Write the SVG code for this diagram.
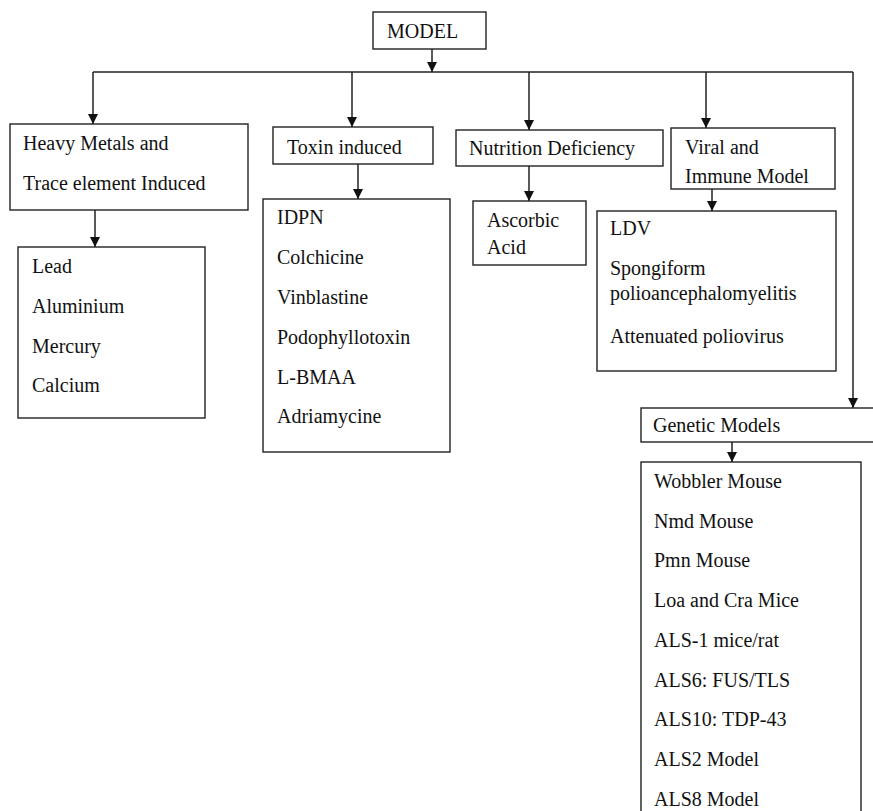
<svg xmlns="http://www.w3.org/2000/svg" width="873" height="811" viewBox="0 0 873 811">
<style>
.box{fill:#fff;stroke:#222;stroke-width:1.4}
.t{font-family:"Liberation Serif","Times New Roman",serif;font-size:20px;fill:#111}
.c{fill:none;stroke:#222;stroke-width:1.5}
</style>
<defs>
<marker id="ah" viewBox="0 0 10 10" markerWidth="10" markerHeight="10" refX="10" refY="5" orient="auto" markerUnits="userSpaceOnUse">
<path d="M0,0 L10,5 L0,10 z" fill="#111"/>
</marker>
</defs>
<rect width="873" height="811" fill="#fff"/>
<g id="connectors">
<line class="c" x1="432" y1="49" x2="432" y2="72" marker-end="url(#ah)"/>
<line class="c" x1="93" y1="72" x2="853" y2="72"/>
<line class="c" x1="93" y1="72" x2="93" y2="124" marker-end="url(#ah)"/>
<line class="c" x1="352" y1="72" x2="352" y2="127" marker-end="url(#ah)"/>
<line class="c" x1="529" y1="72" x2="529" y2="130" marker-end="url(#ah)"/>
<line class="c" x1="706" y1="72" x2="706" y2="128" marker-end="url(#ah)"/>
<line class="c" x1="853" y1="72" x2="853" y2="408" marker-end="url(#ah)"/>
<line class="c" x1="95" y1="210" x2="95" y2="247" marker-end="url(#ah)"/>
<line class="c" x1="358" y1="164" x2="358" y2="199" marker-end="url(#ah)"/>
<line class="c" x1="529" y1="166" x2="529" y2="201" marker-end="url(#ah)"/>
<line class="c" x1="712" y1="189" x2="712" y2="211" marker-end="url(#ah)"/>
<line class="c" x1="732" y1="442" x2="732" y2="462" marker-end="url(#ah)"/>
</g>
<g id="model">
<rect class="box" x="373" y="12" width="113" height="37"/>
<text class="t" x="387" y="38">MODEL</text>
</g>
<g id="heavy">
<rect class="box" x="10" y="124" width="238" height="86"/>
<text class="t" x="23" y="150">Heavy Metals and</text>
<text class="t" x="23" y="190">Trace element Induced</text>
</g>
<g id="heavy-list">
<rect class="box" x="18" y="247" width="187" height="171"/>
<text class="t" x="32" y="273">Lead</text>
<text class="t" x="32" y="313">Aluminium</text>
<text class="t" x="32" y="353">Mercury</text>
<text class="t" x="32" y="392">Calcium</text>
</g>
<g id="toxin">
<rect class="box" x="273" y="127" width="160" height="37"/>
<text class="t" x="287" y="154">Toxin induced</text>
</g>
<g id="toxin-list">
<rect class="box" x="263" y="199" width="187" height="253"/>
<text class="t" x="277" y="224">IDPN</text>
<text class="t" x="277" y="264">Colchicine</text>
<text class="t" x="277" y="304">Vinblastine</text>
<text class="t" x="277" y="344">Podophyllotoxin</text>
<text class="t" x="277" y="384">L-BMAA</text>
<text class="t" x="277" y="423">Adriamycine</text>
</g>
<g id="nutrition">
<rect class="box" x="456" y="130" width="207" height="36"/>
<text class="t" x="469" y="155">Nutrition Deficiency</text>
</g>
<g id="ascorbic">
<rect class="box" x="473" y="201" width="113" height="64"/>
<text class="t" x="487" y="227">Ascorbic</text>
<text class="t" x="487" y="254">Acid</text>
</g>
<g id="viral">
<rect class="box" x="671" y="128" width="164" height="61"/>
<text class="t" x="685" y="154">Viral and</text>
<text class="t" x="685" y="183">Immune Model</text>
</g>
<g id="viral-list">
<rect class="box" x="597" y="211" width="239" height="160"/>
<text class="t" x="610" y="235">LDV</text>
<text class="t" x="610" y="275">Spongiform</text>
<text class="t" x="610" y="300">polioancephalomyelitis</text>
<text class="t" x="610" y="343">Attenuated poliovirus</text>
</g>
<g id="genetic">
<rect class="box" x="641" y="408" width="240" height="34"/>
<text class="t" x="653" y="432">Genetic Models</text>
</g>
<g id="genetic-list">
<rect class="box" x="641" y="462" width="220" height="360"/>
<text class="t" x="654" y="488">Wobbler Mouse</text>
<text class="t" x="654" y="528">Nmd Mouse</text>
<text class="t" x="654" y="567">Pmn Mouse</text>
<text class="t" x="654" y="607">Loa and Cra Mice</text>
<text class="t" x="654" y="647">ALS-1 mice/rat</text>
<text class="t" x="654" y="687">ALS6: FUS/TLS</text>
<text class="t" x="654" y="726">ALS10: TDP-43</text>
<text class="t" x="654" y="766">ALS2 Model</text>
<text class="t" x="654" y="806">ALS8 Model</text>
</g>
</svg>
